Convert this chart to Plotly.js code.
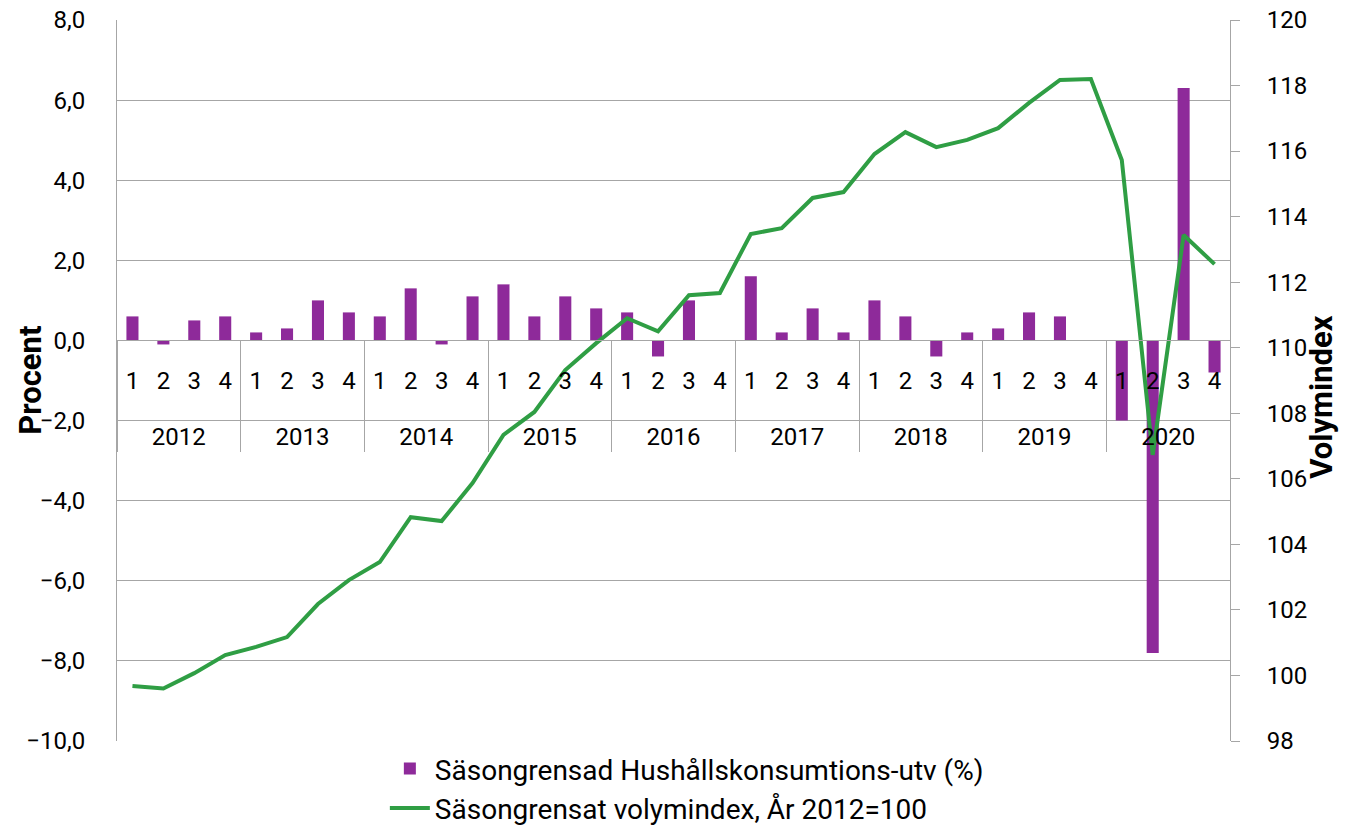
<!DOCTYPE html>
<html>
<head>
<meta charset="utf-8">
<script src="https://cdn.plot.ly/plotly-3.0.1.min.js"></script>
<style>html,body{margin:0;padding:0;background:#fff;}#chart{width:1345px;height:829px;}</style>
</head>
<body>
<div id="chart"></div>
<script>
const years = ['2012','2013','2014','2015','2016','2017','2018','2019','2020'];
const quarters = ['1','2','3','4'];
const barName = 'Säsongrensad Hushållskonsumtions-utv (%)';
const lineName = 'Säsongrensat volymindex, År 2012=100';
const leftTitle = 'Procent';
const rightTitle = 'Volymindex';
const growthPct = [
  0.6, -0.1, 0.5, 0.6,
  0.2, 0.3, 1.0, 0.7,
  0.6, 1.3, -0.1, 1.1,
  1.4, 0.6, 1.1, 0.8,
  0.7, -0.4, 1.0, 0.0,
  1.6, 0.2, 0.8, 0.2,
  1.0, 0.6, -0.4, 0.2,
  0.3, 0.7, 0.6, 0.0,
  -2.0, -7.8, 6.3, -0.8
];
const volumeIndex = [
  99.68, 99.6, 100.07, 100.62,
  100.87, 101.17, 102.18, 102.91,
  103.46, 104.83, 104.71, 105.87,
  107.34, 108.04, 109.32, 110.14,
  110.9, 110.5, 111.6, 111.67,
  113.47, 113.65, 114.57, 114.75,
  115.91, 116.58, 116.12, 116.34,
  116.7, 117.47, 118.17, 118.2,
  115.73, 106.73, 113.44, 112.55
];

// category structure derived from the arrays
const xYears = [], xQuarters = [];
years.forEach(y => quarters.forEach(q => { xYears.push(y); xQuarters.push(q); }));
const nQ = quarters.length;
const nCat = xYears.length;
const qTickVals = xQuarters.map((_, i) => i);
const yearTickVals = years.map((_, k) => k * nQ + (nQ - 1) / 2);
const dividerVals = years.concat(['']).map((_, k) => k * nQ - 0.5);
const catRange = [-0.5, nCat - 0.5];

const gridColor = '#A6A6A6';
const purple = '#8E2A9A';
const green = '#2F9E44';
const font = 'Roboto, "Open Sans", sans-serif';
const zeroPos = 10 / 18;

// helper traces (no data points) so the label axes are drawn
const axisHolder = (xa) => ({
  type: 'scatter', mode: 'markers', x: [], y: [], xaxis: xa, yaxis: 'y',
  showlegend: false, hoverinfo: 'skip'
});

const traces = [
  {
    type: 'bar', name: barName, x: [xYears, xQuarters], y: growthPct,
    marker: {color: purple}, xaxis: 'x', yaxis: 'y', hoverinfo: 'y'
  },
  axisHolder('x2'), axisHolder('x3'), axisHolder('x4'),
  {
    type: 'scatter', mode: 'lines', name: lineName, x: [xYears, xQuarters], y: volumeIndex,
    line: {color: green, width: 4}, xaxis: 'x', yaxis: 'y2', hoverinfo: 'y'
  }
];

const labelAxis = {
  type: 'linear', overlaying: 'x', anchor: 'free', position: zeroPos, range: catRange,
  autorange: false, showgrid: false, zeroline: false, showline: false, tickmode: 'array',
  tickfont: {family: font, size: 24, color: '#000'}
};

const layout = {
  width: 1345, height: 829,
  margin: {l: 117, r: 115, t: 20, b: 88, autoexpand: false},
  paper_bgcolor: '#fff', plot_bgcolor: '#fff',
  separators: ', ',
  font: {family: font, size: 24, color: '#000'},
  bargap: 0.61,
  showlegend: true,
  legend: {
    orientation: 'v', x: 0.512, xanchor: 'center', y: -0.004, yanchor: 'top',
    font: {family: font, size: 28, color: '#000'},
    tracegroupgap: 0, itemwidth: 40, traceorder: 'normal'
  },
  xaxis: {
    type: 'multicategory', anchor: 'free', position: zeroPos,
    showline: true, linecolor: gridColor, linewidth: 1,
    showgrid: false, zeroline: false, showdividers: false,
    showticklabels: false, ticks: ''
  },
  xaxis2: Object.assign({}, labelAxis, {
    tickvals: qTickVals, ticktext: xQuarters, ticks: '', ticklabelstandoff: 24
  }),
  xaxis3: Object.assign({}, labelAxis, {
    tickvals: yearTickVals, ticktext: years, ticks: '', ticklabelstandoff: 80
  }),
  xaxis4: Object.assign({}, labelAxis, {
    tickvals: dividerVals, ticktext: dividerVals.map(() => ''), showticklabels: false,
    ticks: 'outside', ticklen: 111, tickcolor: gridColor, tickwidth: 1
  }),
  yaxis: {
    range: [-10, 8], dtick: 2, tick0: 0, tickformat: '.1f',
    showgrid: true, gridcolor: gridColor, gridwidth: 1,
    zeroline: false, showline: true, linecolor: gridColor, linewidth: 1,
    ticks: '', ticklabelstandoff: 26,
    tickfont: {family: font, size: 24, color: '#000'}
  },
  yaxis2: {
    range: [98, 120], dtick: 2, tick0: 98, overlaying: 'y', side: 'right',
    showgrid: false, zeroline: false, showline: true, linecolor: gridColor, linewidth: 1,
    ticks: 'outside', ticklen: 9, tickcolor: gridColor, tickwidth: 1, ticklabelstandoff: 22,
    tickfont: {family: font, size: 24, color: '#000'}
  },
  annotations: [
    {text: '<b>' + leftTitle + '</b>', xref: 'paper', yref: 'paper', x: -0.078, y: 0.5,
     xanchor: 'center', yanchor: 'middle', textangle: -90, showarrow: false,
     font: {family: font, size: 31, color: '#000'}},
    {text: '<b>' + rightTitle + '</b>', xref: 'paper', yref: 'paper', x: 1.0815, y: 0.477,
     xanchor: 'center', yanchor: 'middle', textangle: -90, showarrow: false,
     font: {family: font, size: 31, color: '#000'}}
  ]
};

Plotly.newPlot('chart', traces, layout, {displayModeBar: false, staticPlot: true});
</script>
</body>
</html>
